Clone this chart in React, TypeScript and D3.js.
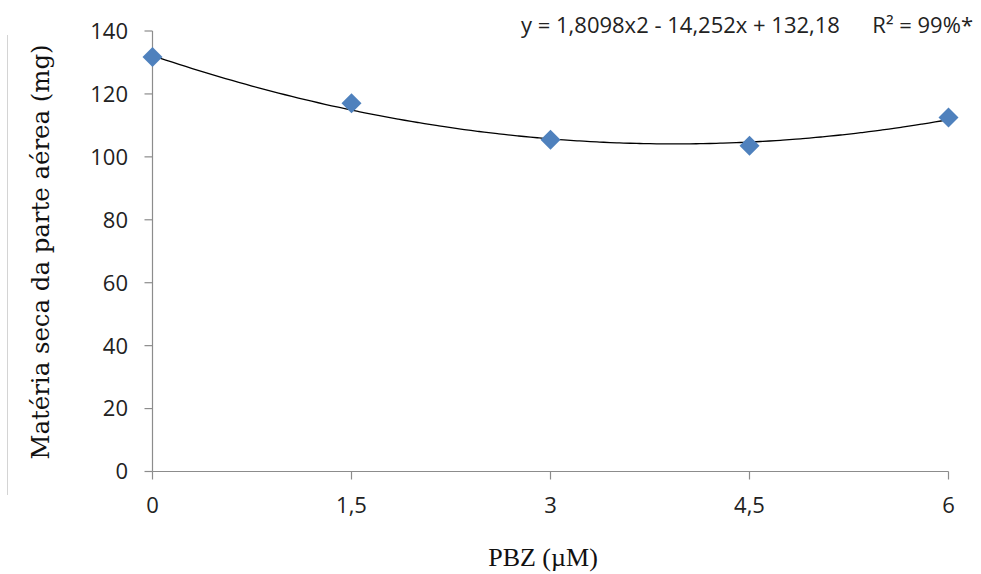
import React from "react";
import * as d3 from "d3";

const doses = [0, 1.5, 3, 4.5, 6];
const dryMass = [131.7, 117.0, 105.4, 103.5, 112.5];
const yTicks = [0, 20, 40, 60, 80, 100, 120, 140];
const xTickLabels = ["0", "1,5", "3", "4,5", "6"];
const coef = { a: 1.8098, b: -14.252, c: 132.18 };
const equationText = "y = 1,8098x2 - 14,252x + 132,18";
const r2Text = "R² = 99%*";
const yTitle = "Matéria seca da parte aérea (mg)";
const xTitle = "PBZ (µM)";

const W = 981;
const H = 574;

export default function App() {
  const x = d3.scaleLinear().domain([0, 6]).range([152.5, 948.5]);
  const y = d3.scaleLinear().domain([0, 140]).range([471.5, 31]);

  const fit = d3.range(0, 6.0001, 0.05).map((v) => [v, coef.a * v * v + coef.b * v + coef.c] as [number, number]);
  const line = d3
    .line<[number, number]>()
    .x((d) => x(d[0]))
    .y((d) => y(d[1]))
    .curve(d3.curveBasis);

  const diamond = d3.symbol().type(d3.symbolSquare).size(200)();
  const axisColor = "#8c8c8c";
  const tickFont = "'Open Sans', sans-serif";

  return (
    <svg width={W} height={H} style={{ position: "absolute", left: 0, top: 0, background: "#fff" }}>
      <rect x={0} y={0} width={W} height={H} fill="#fff" />
      <line x1={7.5} x2={7.5} y1={35} y2={495} stroke="#d4d4d4" strokeWidth={1} />

      {/* y axis */}
      <line x1={x(0)} x2={x(0)} y1={y(140)} y2={y(0)} stroke={axisColor} strokeWidth={1.2} />
      {yTicks.map((t) => (
        <g key={t}>
          <line x1={x(0) - 8} x2={x(0)} y1={y(t)} y2={y(t)} stroke={axisColor} strokeWidth={1.2} />
          <text
            x={128}
            y={y(t)}
            dy="0.36em"
            textAnchor="end"
            fontFamily={tickFont}
            fontSize={22}
            fill="#222"
          >
            {t}
          </text>
        </g>
      ))}

      {/* x axis */}
      <line x1={x(0)} x2={x(6)} y1={y(0)} y2={y(0)} stroke={axisColor} strokeWidth={1.2} />
      {doses.map((d, i) => (
        <g key={d}>
          <line x1={x(d)} x2={x(d)} y1={y(0)} y2={y(0) + 8} stroke={axisColor} strokeWidth={1.2} />
          <text
            x={x(d)}
            y={505}
            dy="0.36em"
            textAnchor="middle"
            fontFamily={tickFont}
            fontSize={22}
            fill="#222"
          >
            {xTickLabels[i]}
          </text>
        </g>
      ))}

      {/* fitted quadratic */}
      <path d={line(fit) || ""} fill="none" stroke="#000" strokeWidth={1.3} />

      {/* observed means */}
      {doses.map((d, i) => (
        <path
          key={d}
          d={diamond || ""}
          transform={`translate(${x(d)},${y(dryMass[i])}) rotate(45)`}
          fill="#4f81bd"
        />
      ))}

      {/* regression equation */}
      <text x={521} y={25} dy="0.36em" fontFamily={tickFont} fontSize={22} fill="#222">
        {equationText}
      </text>
      <text x={973} y={25} dy="0.36em" textAnchor="end" fontFamily={tickFont} fontSize={22} fill="#222">
        {r2Text}
      </text>

      {/* axis titles */}
      <text
        transform={`translate(49,252) rotate(-90)`}
        textAnchor="middle"
        fontFamily="'DejaVu Serif', serif"
        fontSize={24}
        fill="#111"
        textLength={415}
        lengthAdjust="spacingAndGlyphs"
      >
        {yTitle}
      </text>
      <text
        x={543}
        y={566}
        textAnchor="middle"
        fontFamily="'Liberation Serif', 'Times New Roman', serif"
        fontSize={26}
        fill="#111"
      >
        {xTitle}
      </text>
    </svg>
  );
}
